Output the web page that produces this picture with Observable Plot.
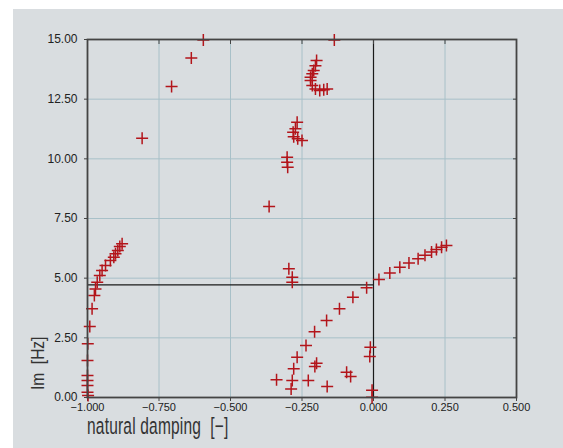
<!DOCTYPE html>
<html>
<head>
<meta charset="utf-8">
<script src="https://cdn.jsdelivr.net/npm/d3@7"></script>
<script src="https://cdn.jsdelivr.net/npm/@observablehq/plot@0.6"></script>
<style>
  html, body { margin: 0; padding: 0; background: #ffffff; }
  #panel { position: absolute; left: 13px; top: 9px; width: 550px; height: 439px; background: #d9dde0; overflow: hidden; }
  #chart { position: absolute; left: 0; top: 0; }
  .xlab { position: absolute; left: 74px; top: 404px; font-family: "Liberation Sans Narrow", "Liberation Sans", sans-serif; font-size: 15.5px; line-height: 18px; color: #333; transform: scaleY(1.5); transform-origin: left top; white-space: pre; letter-spacing: 0.2px; }
  .ylab { position: absolute; left: 14px; top: 381px; font-family: "Liberation Sans Narrow", "Liberation Sans", sans-serif; font-size: 15.5px; line-height: 18px; color: #333; transform: rotate(-90deg) scaleY(1.2); transform-origin: left top; white-space: pre; }
</style>
</head>
<body>
<div id="panel">
  <div id="chart"></div>
  <div class="xlab">natural damping  [−]</div>
  <div class="ylab">Im  [Hz]</div>
</div>
<script>
const damping = [
  -0.879,-0.887,-0.894,-0.902,-0.908,-0.920,-0.937,-0.949,-0.957,-0.966,-0.972,-0.976,-0.984,-0.992,-0.999,-1.0,-1.0,-1.0,-1.0,-1.0,-0.998,
  -0.809,-0.706,-0.637,-0.595,
  -0.137,
  -0.199,-0.203,-0.209,-0.214,-0.220,-0.220,-0.214,-0.203,-0.188,-0.174,-0.162,
  -0.267,-0.273,-0.281,-0.279,-0.265,-0.250,
  -0.302,-0.302,-0.300,
  -0.365,
  -0.296,-0.284,-0.284,
  -0.024,-0.072,-0.119,-0.164,-0.206,-0.236,-0.267,-0.279,-0.284,-0.288,
  -0.339,-0.228,-0.199,-0.205,-0.162,-0.094,-0.080,-0.011,-0.013,-0.005,-0.005,
  0.019,0.057,0.092,0.124,0.156,0.180,0.203,0.220,0.238,0.255
];
const frequency = [
  6.44,6.33,6.16,6.02,5.88,5.74,5.53,5.32,5.11,4.83,4.55,4.27,3.72,2.97,2.25,1.55,0.92,0.71,0.50,0.22,0.08,
  10.86,13.03,14.23,14.98,
  14.98,
  14.12,13.90,13.70,13.56,13.42,13.28,13.07,12.93,12.86,12.89,12.93,
  11.53,11.26,11.11,10.93,10.84,10.77,
  10.07,9.86,9.65,
  8.00,
  5.39,5.04,4.83,
  4.60,4.20,3.72,3.23,2.76,2.18,1.69,1.20,0.71,0.36,
  0.74,0.71,1.44,1.30,0.46,1.06,0.88,2.11,1.72,0.01,0.30,
  4.94,5.22,5.46,5.64,5.81,5.96,6.10,6.20,6.30,6.37
];
const xTicks = [-1.0, -0.75, -0.5, -0.25, 0, 0.25, 0.5];
const yTicks = [0, 2.5, 5, 7.5, 10, 12.5, 15];
const refX = [0];
const refY = [4.72];

const points = damping.map((d, i) => ({damping: d, freq: frequency[i]}));

const crossSymbol = {
  draw(context, size) {
    const r = Math.sqrt(size / Math.PI);
    context.moveTo(-r, 0); context.lineTo(r, 0);
    context.moveTo(0, -r); context.lineTo(0, r);
  }
};

const fmtX = d3.format(".3f");
const fmtY = d3.format(".2f");

const plot = Plot.plot({
  width: 550,
  height: 420,
  marginLeft: 74,
  marginRight: 47,
  marginTop: 30,
  marginBottom: 32,
  style: { background: "transparent", fontFamily: "'Liberation Sans Narrow', 'Liberation Sans', sans-serif", fontSize: "12px", color: "#222" },
  x: { domain: [-1, 0.5] },
  y: { domain: [0, 15] },
  marks: [
    Plot.gridX(xTicks, { stroke: "#a8c0c8", strokeOpacity: 1, strokeWidth: 1 }),
    Plot.gridY(yTicks, { stroke: "#a8c0c8", strokeOpacity: 1, strokeWidth: 1 }),
    Plot.ruleX(refX, { stroke: "#1a1a1a", strokeWidth: 1.2 }),
    Plot.ruleY(refY, { x1: -1, x2: 0, stroke: "#1a1a1a", strokeWidth: 1.2 }),
    Plot.axisX(xTicks, { anchor: "bottom", tickSize: 4, tickPadding: 2, tickFormat: fmtX, label: null, fontSize: 11, stroke: "#444" }),
    Plot.axisY(yTicks, { anchor: "left", tickSize: 3, tickPadding: 7, tickFormat: fmtY, label: null, fontSize: 12, stroke: "#444" }),
    Plot.axisX(xTicks, { anchor: "top", tickSize: -4, tickFormat: () => "", label: null, stroke: "#444" }),
    Plot.axisY(yTicks, { anchor: "right", tickSize: -4, tickFormat: () => "", label: null, stroke: "#444" }),
    Plot.dot(points, { x: "damping", y: "freq", symbol: crossSymbol, r: 6, stroke: "#b3151b", strokeWidth: 1.5, fill: "none" }),
    Plot.frame({ stroke: "#444", strokeWidth: 1.8 })
  ]
});
document.getElementById("chart").appendChild(plot);
</script>
</body>
</html>
